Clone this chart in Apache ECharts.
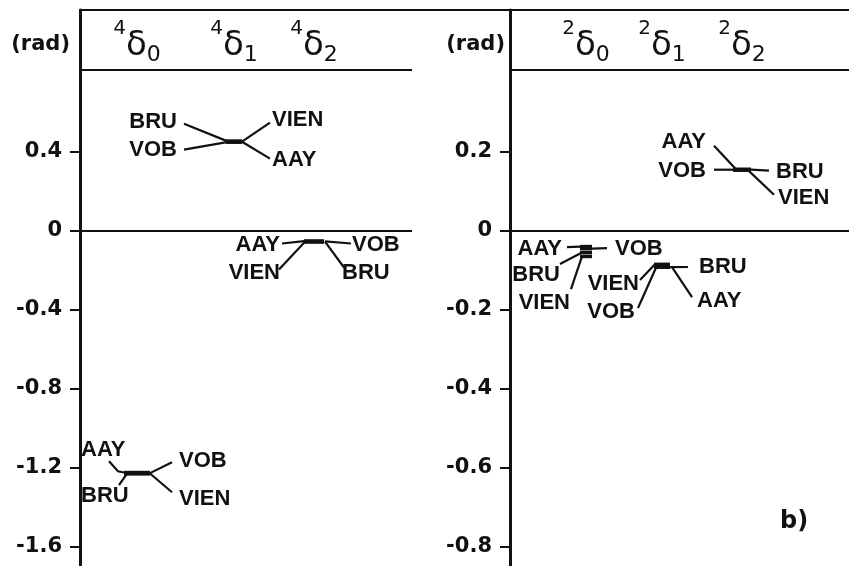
<!DOCTYPE html>
<html>
<head>
<meta charset="utf-8">
<script src="https://cdn.jsdelivr.net/npm/echarts@6/dist/echarts.min.js"></script>
<style>html,body{margin:0;padding:0;background:#fff}#c{width:849px;height:566px}</style>
</head>
<body>
<div id="c"></div>
<script>
// ---- data ----
const stations = ['AAY', 'BRU', 'VOB', 'VIEN'];
const leftSup = '4', rightSup = '2';
const paramSubs = ['0', '1', '2'];
// phase values (rad), order: AAY, BRU, VOB, VIEN
const d4_0 = [-1.226, -1.232, -1.229, -1.231];
const d4_1 = [0.452, 0.455, 0.450, 0.452];
const d4_2 = [-0.052, -0.055, -0.054, -0.056];
const d2_0 = [-0.040, -0.055, -0.045, -0.065];
const d2_1 = [-0.092, -0.092, -0.088, -0.085];
const d2_2 = [0.156, 0.155, 0.155, 0.154];
const leftTicks = [0.4, 0, -0.4, -0.8, -1.2, -1.6];
const rightTicks = [0.2, 0, -0.2, -0.4, -0.6, -0.8];
const axisUnit = '(rad)';
const panelTag = 'b)';

// ---- layout (pixels / axis units) ----
const leftColX = [57, 154, 234];
const rightColX = [76, 152, 232];
const leftHeaderRule = 0.815, rightHeaderRule = 0.4075;
// label layout relative to group centre: t=text pos, a=align, s=leader start, k=optional knee, e=end x offset
const layouts = [
  { hw: 13, st: {
    AAY:  { t: [-56, -23], a: 'left', s: [-28, -12], k: [-19, -2], e: -13 },
    BRU:  { t: [-56, 23], a: 'left', s: [-18, 12], e: -10 },
    VOB:  { t: [42, -12], a: 'left', s: [35, -11], e: 13 },
    VIEN: { t: [42, 26], a: 'left', s: [35, 19], e: 13 } } },
  { hw: 8, st: {
    AAY:  { t: [38, 18], a: 'left', s: [36, 17], e: 8 },
    BRU:  { t: [-57, -20], a: 'right', s: [-50, -18], e: -7 },
    VOB:  { t: [-57, 8], a: 'right', s: [-50, 8], e: -7 },
    VIEN: { t: [38, -22], a: 'left', s: [36, -19], e: 8 } } },
  { hw: 10, st: {
    AAY:  { t: [-34, 3], a: 'right', s: [-32, 2], e: -10 },
    BRU:  { t: [28, 31], a: 'left', s: [30, 26], e: 11 },
    VOB:  { t: [38, 3], a: 'left', s: [37, 2], e: 11 },
    VIEN: { t: [-34, 31], a: 'right', s: [-35, 28], e: -9 } } },
  { hw: 6, st: {
    AAY:  { t: [-24, -2], a: 'right', s: [-19, -4], e: -6 },
    BRU:  { t: [-26, 24], a: 'right', s: [-26, 13], e: -4 },
    VOB:  { t: [29, -2], a: 'left', s: [21, -3], e: 6 },
    VIEN: { t: [-16, 52], a: 'right', s: [-15, 38], e: -4 } } },
  { hw: 8, st: {
    AAY:  { t: [35, 35], a: 'left', s: [30, 31], e: 10 },
    BRU:  { t: [37, 1], a: 'left', s: [26, 1], e: 8 },
    VOB:  { t: [-27, 46], a: 'right', s: [-24, 42], e: -5 },
    VIEN: { t: [-23, 18], a: 'right', s: [-22, 14], e: -7 } } },
  { hw: 9, st: {
    AAY:  { t: [-36, -28], a: 'right', s: [-28, -24], e: -6 },
    BRU:  { t: [34, 2], a: 'left', s: [27, 1], e: 9 },
    VOB:  { t: [-36, 1], a: 'right', s: [-28, 0], e: -9 },
    VIEN: { t: [36, 28], a: 'left', s: [32, 25], e: 6 } } }
];

const FONT = 'Liberation Sans';
const WIDE = 'DejaVu Sans';
const ink = '#111';

function groupItem(x, vals, li) { return [x].concat(vals).concat([li]); }
const leftData = [groupItem(leftColX[0], d4_0, 0), groupItem(leftColX[1], d4_1, 1), groupItem(leftColX[2], d4_2, 2)];
const rightData = [groupItem(rightColX[0], d2_0, 3), groupItem(rightColX[1], d2_1, 4), groupItem(rightColX[2], d2_2, 5)];

function renderItem(params, api) {
  const x = api.value(0);
  const vals = [api.value(1), api.value(2), api.value(3), api.value(4)];
  const lay = layouts[api.value(5)];
  const mean = (vals[0] + vals[1] + vals[2] + vals[3]) / 4;
  const c = api.coord([x, mean]);
  const cx = c[0], cy = c[1];
  const children = [];
  stations.forEach(function (s, i) {
    const y = api.coord([x, vals[i]])[1];
    children.push({ type: 'line', shape: { x1: cx - lay.hw, y1: y, x2: cx + lay.hw, y2: y },
      style: { stroke: ink, lineWidth: 3.5 } });
    const L = lay.st[s];
    const pts = [[cx + L.s[0], cy + L.s[1]]];
    if (L.k) pts.push([cx + L.k[0], cy + L.k[1]]);
    pts.push([cx + L.e, y]);
    children.push({ type: 'polyline', shape: { points: pts },
      style: { stroke: ink, lineWidth: 2.2, fill: null } });
    children.push({ type: 'text', x: cx + L.t[0], y: cy + L.t[1],
      style: { text: s, fill: ink, font: 'bold 22px "' + FONT + '"', align: L.a, verticalAlign: 'middle' } });
  });
  return { type: 'group', children: children };
}

function headerFmt(sup, cols) {
  return function (v) {
    const i = cols.indexOf(v);
    return '{sup|' + sup + '}{d|δ}{sub|' + paramSubs[i] + '}';
  };
}
const headerRich = {
  sup: { fontSize: 20, fontFamily: WIDE, color: ink, verticalAlign: 'top', lineHeight: 20, padding: [2, 0, 0, 0] },
  d: { fontSize: 34, fontFamily: WIDE, color: ink, lineHeight: 59 },
  sub: { fontSize: 22, fontFamily: WIDE, color: ink, verticalAlign: 'bottom', lineHeight: 25, padding: [0, 0, 10, 0] }
};

function rules(xMax, hdr) {
  return {
    silent: true, symbol: ['none', 'none'], label: { show: false },
    lineStyle: { color: ink, type: 'solid', width: 2 },
    data: [
      [{ coord: [0, 0] }, { coord: [xMax, 0] }],
      [{ coord: [0, hdr] }, { coord: [xMax, hdr] }]
    ]
  };
}

function yAxisCfg(gi, min, max, ticks, namePad) {
  return {
    type: 'value', gridIndex: gi, min: min, max: max,
    name: axisUnit, nameLocation: 'end', nameGap: -35,
    nameTextStyle: { color: ink, fontFamily: WIDE, fontWeight: 'bold', fontSize: 21, align: 'right', verticalAlign: 'middle', padding: [0, namePad, 0, 0] },
    axisLine: { show: true, lineStyle: { color: ink, width: 3 } },
    axisTick: { show: true, length: 10, customValues: ticks, lineStyle: { color: ink, width: 2 } },
    axisLabel: { customValues: ticks, margin: 18, color: ink, fontFamily: WIDE, fontWeight: 'bold', fontSize: 21 },
    splitLine: { show: false }
  };
}
function xAxisCfg(gi, max, cols, sup) {
  return {
    type: 'value', gridIndex: gi, min: 0, max: max, position: 'top',
    axisLine: { show: true, onZero: false, lineStyle: { color: ink, width: 2 } },
    axisTick: { show: false }, splitLine: { show: false },
    axisLabel: { show: true, inside: true, margin: 7, customValues: cols,
      formatter: headerFmt(sup, cols), rich: headerRich, color: ink, verticalAlign: 'top' }
  };
}

const chart = echarts.init(document.getElementById('c'), null, { renderer: 'canvas' });
chart.setOption({
  animation: false,
  backgroundColor: '#fff',
  title: { text: panelTag, left: 775, top: 505, textStyle: { fontFamily: WIDE, fontSize: 24, fontWeight: 'bold', color: ink } },
  grid: [
    { left: 80, top: 10, width: 430, height: 557 },
    { left: 510, top: 10, width: 339, height: 557 }
  ],
  xAxis: [xAxisCfg(0, 430, leftColX, leftSup), xAxisCfg(1, 339, rightColX, rightSup)],
  yAxis: [yAxisCfg(0, -1.7, 1.12, leftTicks, 10), yAxisCfg(1, -0.85, 0.56, rightTicks, 5)],
  series: [
    { type: 'custom', xAxisIndex: 0, yAxisIndex: 0, data: leftData, renderItem: renderItem,
      encode: { x: 0, y: [1, 2, 3, 4] }, clip: false, silent: true, markLine: rules(332, leftHeaderRule) },
    { type: 'custom', xAxisIndex: 1, yAxisIndex: 1, data: rightData, renderItem: renderItem,
      encode: { x: 0, y: [1, 2, 3, 4] }, clip: false, silent: true, markLine: rules(339, rightHeaderRule) }
  ]
});
</script>
</body>
</html>
